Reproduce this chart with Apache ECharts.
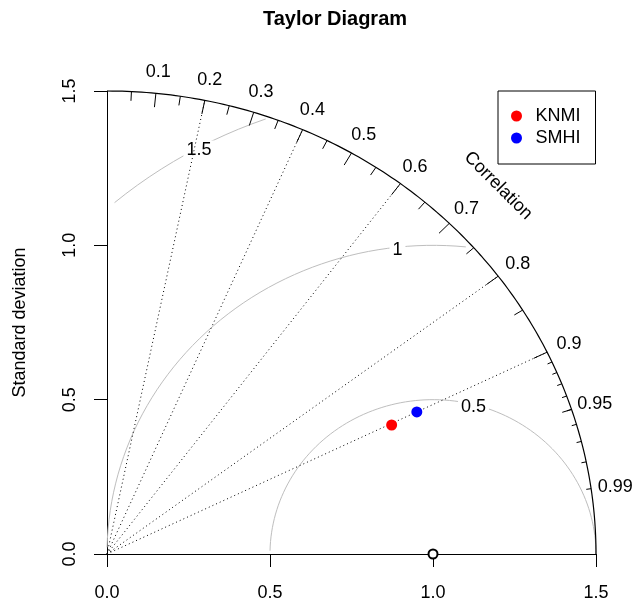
<!DOCTYPE html>
<html>
<head>
<meta charset="utf-8">
<script src="https://cdn.jsdelivr.net/npm/echarts@6/dist/echarts.min.js"></script>
<style>
  html, body { margin: 0; padding: 0; background: #ffffff; }
  #chart { width: 635px; height: 604px; }
</style>
</head>
<body>
<div id="chart"></div>
<script>
// Models compared against the reference field
const models = ['KNMI', 'SMHI'];
const modelColors = ['#ff0000', '#0000ff'];
const modelSd = [0.968, 1.056];
const modelCorr = [0.902, 0.900];

// Reference standard deviation and plot extent
const refSd = 1.0;
const maxSd = 1.5;

// Standard deviation axis ticks
const sdTicks = [0.0, 0.5, 1.0, 1.5];

// Correlation scale: labels, radial guide lines and arc ticks
const corrLabelValues = [0.1, 0.2, 0.3, 0.4, 0.5, 0.6, 0.7, 0.8, 0.9, 0.95, 0.99];
const corrGuideLines = [0.2, 0.4, 0.6, 0.8, 0.9];
const corrBigTicks = [0.1, 0.2, 0.3, 0.4, 0.5, 0.6, 0.7, 0.8, 0.9];
const corrMedTicks = [0.05, 0.15, 0.25, 0.35, 0.45, 0.55, 0.65, 0.75, 0.85, 0.95];
const corrSmallTicks = [0.91, 0.92, 0.93, 0.94, 0.95, 0.96, 0.97, 0.98, 0.99];

// Centred RMS difference contours and where their labels sit (1-based step index)
const gammaValues = [0.5, 1, 1.5];
const gammaLabelIdx = [45, 57, 70];

const FONT = '"Liberation Sans", Arial, Helvetica, sans-serif';

function toXY(sd, corr) {
  return [sd * corr, sd * Math.sqrt(1 - corr * corr)];
}

// Outer bounding arc at maxSd
const outerArc = [];
for (let k = 0; k * 0.01 <= Math.PI / 2; k++) {
  const t = k * 0.01;
  outerArc.push([Math.cos(t) * maxSd, Math.sin(t) * maxSd]);
}
outerArc.push([0, maxSd]);

// RMS contour around the reference point, clipped to the quadrant
function gammaCurve(g) {
  const xs = [], ys = [];
  for (let k = 0; k * 0.03 <= Math.PI; k++) {
    const t = k * 0.03;
    xs.push(Math.cos(t) * g + refSd);
    ys.push(Math.sin(t) * g);
  }
  let end = xs.findIndex(x => x < 0);
  end = end >= 0 ? end - 1 : xs.length - 1;
  let start = -1;
  xs.forEach((x, i) => { if (x * x + ys[i] * ys[i] > maxSd * maxSd) start = i; });
  start = start + 1;
  const pts = [];
  for (let i = start; i <= end; i++) pts.push([xs[i], ys[i]]);
  return { pts, xs, ys };
}
const gammaCurves = gammaValues.map(gammaCurve);

const gammaLabels = [];
gammaValues.forEach((g, i) => {
  const c = gammaCurves[i];
  const j = gammaLabelIdx[i] - 1;
  if (c.xs[j] > 0) gammaLabels.push([c.xs[j], c.ys[j], g]);
});

// Arc tick segments: [corr, inner radius fraction]
const tickData = []
  .concat(corrBigTicks.map(c => [c, 0.97]))
  .concat(corrMedTicks.map(c => [c, 0.98]))
  .concat(corrSmallTicks.map(c => [c, 0.99]));

const corrLabelPos = corrLabelValues.map(c => toXY(1.05 * maxSd, c));

const lineBase = { type: 'line', showSymbol: false, symbol: 'none', silent: true, animation: false, clip: false };

const series = [];

gammaCurves.forEach(c => {
  series.push(Object.assign({}, lineBase, {
    data: c.pts, z: 1,
    lineStyle: { color: '#bebebe', width: 1 }
  }));
});

// White-boxed RMS labels
series.push({
  type: 'custom', silent: true, animation: false, clip: false, z: 2,
  data: gammaLabels.map(d => [d[0], d[1]]),
  renderItem: function (params, api) {
    const p = api.coord([api.value(0), api.value(1)]);
    return {
      type: 'text', x: p[0], y: p[1] + 3,
      style: {
        text: String(gammaLabels[params.dataIndex][2]),
        fill: '#000', font: '18px ' + FONT,
        align: 'center', verticalAlign: 'middle',
        backgroundColor: '#ffffff', padding: [1, 3]
      }
    };
  }
});

// Dotted radial correlation lines
series.push({
  type: 'custom', silent: true, animation: false, clip: false, z: 3,
  data: corrGuideLines.map(c => toXY(maxSd, c)),
  renderItem: function (params, api) {
    const p0 = api.coord([0, 0]);
    const p1 = api.coord([api.value(0), api.value(1)]);
    return {
      type: 'line',
      shape: { x1: p0[0], y1: p0[1], x2: p1[0], y2: p1[1] },
      style: { stroke: '#000', lineWidth: 1, lineDash: [1, 3] }
    };
  }
});

// Outer arc
series.push(Object.assign({}, lineBase, {
  data: outerArc, z: 4,
  lineStyle: { color: '#000', width: 1.2 }
}));

// Correlation ticks on the arc
series.push({
  type: 'custom', silent: true, animation: false, clip: false, z: 4,
  data: tickData,
  renderItem: function (params, api) {
    const c = api.value(0), f = api.value(1);
    const s = Math.sqrt(1 - c * c);
    const a = api.coord([c * maxSd, s * maxSd]);
    const b = api.coord([c * f * maxSd, s * f * maxSd]);
    return {
      type: 'line',
      shape: { x1: a[0], y1: a[1], x2: b[0], y2: b[1] },
      style: { stroke: '#000', lineWidth: 1 }
    };
  }
});

// Correlation labels around the arc, plus the scale title
series.push({
  type: 'custom', silent: true, animation: false, clip: false, z: 4,
  data: corrLabelPos.concat([[0.8 * maxSd, 0.8 * maxSd]]),
  renderItem: function (params, api) {
    const p = api.coord([api.value(0), api.value(1)]);
    const i = params.dataIndex;
    const isTitle = i >= corrLabelValues.length;
    return {
      type: 'text', x: p[0], y: p[1] + 2,
      rotation: isTitle ? -Math.PI / 4 : 0,
      style: {
        text: isTitle ? 'Correlation' : String(corrLabelValues[i]),
        fill: '#000', font: '18px ' + FONT,
        align: 'center', verticalAlign: 'middle'
      }
    };
  }
});

// Reference point
series.push({
  type: 'scatter', silent: true, animation: false, clip: false, z: 5,
  symbol: 'emptyCircle', symbolSize: 9,
  itemStyle: { color: '#000', borderColor: '#000', borderWidth: 1, opacity: 1 },
  data: [[refSd, 0]]
});

// Model points
models.forEach((m, i) => {
  series.push({
    type: 'scatter', name: m, animation: false, clip: false, z: 6,
    symbol: 'circle', symbolSize: 11,
    itemStyle: { color: modelColors[i], opacity: 1 },
    data: [toXY(modelSd[i], modelCorr[i])]
  });
});

const axisCommon = {
  type: 'value', min: 0, max: maxSd, interval: 0.5,
  axisLine: { show: true, onZero: false, lineStyle: { color: '#000', width: 1 } },
  axisTick: { show: true, inside: false, length: 13, lineStyle: { color: '#000', width: 1 } },
  splitLine: { show: false },
  axisLabel: {
    color: '#000', fontSize: 18, fontFamily: FONT,
    formatter: v => (sdTicks.indexOf(v) >= 0 ? v.toFixed(1) : '')
  }
};

const option = {
  backgroundColor: '#ffffff',
  animation: false,
  graphic: [{
    type: 'text', x: 335, y: 19,
    style: {
      text: 'Taylor Diagram', fill: '#000',
      font: 'bold 20px ' + FONT, align: 'center', verticalAlign: 'middle'
    }
  }],
  grid: { left: 107, top: 91, width: 489, height: 463, containLabel: false },
  xAxis: Object.assign({}, axisCommon, {
    axisLabel: Object.assign({}, axisCommon.axisLabel, { margin: 30 })
  }),
  yAxis: Object.assign({}, axisCommon, {
    name: 'Standard deviation', nameLocation: 'middle', nameGap: 78, nameRotate: 90,
    nameTextStyle: { color: '#000', fontSize: 18, fontFamily: FONT },
    axisLabel: Object.assign({}, axisCommon.axisLabel, { margin: 28, rotate: 90 })
  }),
  legend: {
    data: models.map(m => ({ name: m, icon: 'circle' })),
    orient: 'vertical', left: 498, top: 91,
    padding: [16, 15, 17, 13], itemGap: 4,
    itemWidth: 12, itemHeight: 11,
    borderColor: '#000', borderWidth: 1, borderRadius: 0,
    selectedMode: false,
    textStyle: { color: '#000', fontSize: 18, fontFamily: FONT, lineHeight: 18, padding: [0, 0, 0, 8] }
  },
  series: series
};

const chart = echarts.init(document.getElementById('chart'));
chart.setOption(option);
</script>
</body>
</html>
